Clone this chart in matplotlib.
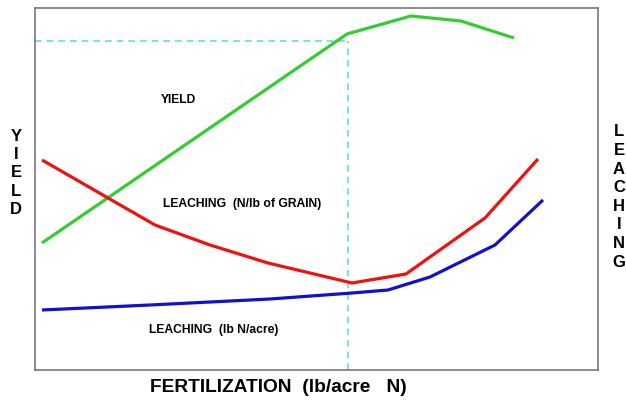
import matplotlib.pyplot as plt

# fertilization axis (relative units, no scale shown on the chart)
yield_x = [7, 312, 376, 426, 479]
yield_y = [127, 336, 354, 349, 332]

leach_grain_x = [7, 120, 175, 233, 317, 371, 450, 503]
leach_grain_y = [210, 145, 125, 107, 87, 96, 152, 211]

leach_acre_x = [7, 115, 235, 317, 353, 395, 460, 508]
leach_acre_y = [60, 65, 71, 77, 80, 93, 125, 170]

# optimum fertilization point (cyan guide lines)
opt_x = 313
opt_y = 329

plt.rcParams['font.family'] = ['Liberation Sans', 'DejaVu Sans']

fig = plt.figure(figsize=(6.26, 4.04), dpi=100)
ax = fig.add_axes([35 / 626, 34 / 404, 563 / 626, 362 / 404])
ax.set_xlim(0, 563)
ax.set_ylim(0, 362)
ax.set_xticks([])
ax.set_yticks([])
for s in ax.spines.values():
    s.set_color('#777777')
    s.set_linewidth(1.2)

# guide lines to optimum
ax.plot([0, opt_x], [opt_y, opt_y], color='#66dddd', lw=1.2, ls=(0, (4, 3)))
ax.plot([opt_x, opt_x], [0, opt_y], color='#66dddd', lw=1.2, ls=(0, (4, 3)))

ax.plot(yield_x, yield_y, color='#33cc33', lw=2.3, solid_capstyle='butt')
ax.plot(leach_grain_x, leach_grain_y, color='#ee1111', lw=2.3, solid_capstyle='butt')
ax.plot(leach_acre_x, leach_acre_y, color='#1111cc', lw=2.3, solid_capstyle='butt')

ax.text(143, 270, 'YIELD', fontsize=8.7, fontweight='bold', ha='center', va='center')
ax.text(207, 166, 'LEACHING  (N/lb of GRAIN)', fontsize=8.7, fontweight='bold',
        ha='center', va='center')
ax.text(179, 40, 'LEACHING  (lb N/acre)', fontsize=8.7, fontweight='bold',
        ha='center', va='center')

fig.text(278 / 626, 1 - 388 / 404, 'FERTILIZATION  (lb/acre   N)', fontsize=13.8,
         fontweight='bold', ha='center', va='center')
fig.text(16 / 626, 1 - 173 / 404, 'Y\nI\nE\nL\nD', fontsize=12, fontweight='bold',
         ha='center', va='center', linespacing=1.28)
fig.text(619 / 626, 1 - 197 / 404, 'L\nE\nA\nC\nH\nI\nN\nG', fontsize=12,
         fontweight='bold', ha='center', va='center', linespacing=1.3)

fig.savefig('out.png', dpi=100)
